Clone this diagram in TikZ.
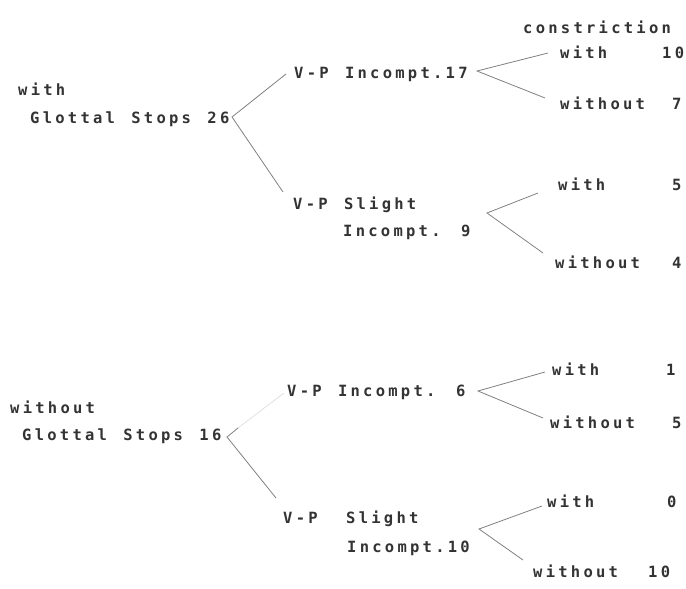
\documentclass[tikz,border=0pt]{standalone}
\usepackage{fontspec}
\newfontfamily\tw[LetterSpace=21,WordSpace=1.3,BoldFont={DejaVu Sans Mono Bold}]{DejaVu Sans Mono}
\begin{document}
\begin{tikzpicture}[x=1pt,y=-1pt,
  txt/.style={anchor=base west,inner sep=0pt,text=black!80,font=\tw\bfseries\fontsize{15.5}{16}\selectfont},
  br/.style={draw=black!50,line width=0.8pt},
  faint/.style={draw=black!15,line width=0.6pt}]
\useasboundingbox (0,0) rectangle (686,589);
% ---------- upper tree ----------
\node[txt] (cons) at (523,33) {constriction};
\node[txt] (w1) at (18,95) {with};
\node[txt] (g26) at (30,123) {Glottal Stops 26};
\node[txt] (vp17) at (294,78) {V-P Incompt.17};
\node[txt] (vps1) at (293,209) {V-P Slight};
\node[txt] (inc9) at (343,236) {Incompt. 9};
\node[txt] (a1) at (560,58) {with};
\node[txt] (n10) at (662,58) {10};
\node[txt] (a2) at (560,109) {without};
\node[txt] (n7) at (672,109) {7};
\node[txt] (a3) at (558,190) {with};
\node[txt] (n5) at (672,190) {5};
\node[txt] (a4) at (555,268) {without};
\node[txt] (n4) at (672,268) {4};
\coordinate (j1) at (232,117);
\coordinate (e1) at (286,74);
\coordinate (e2) at (283,192);
\coordinate (j2) at (477,71);
\coordinate (e3) at (548,53);
\coordinate (e4) at (545,98);
\coordinate (j3) at (487,213);
\coordinate (e5) at (538,193);
\coordinate (e6) at (543,253);
\draw[br] (e1) -- (j1) -- (e2);
\draw[br] (e3) -- (j2) -- (e4);
\draw[br] (e5) -- (j3) -- (e6);
% ---------- lower tree ----------
\node[txt] (w2) at (10,413) {without};
\node[txt] (g16) at (22,440) {Glottal Stops 16};
\node[txt] (vp6) at (287,396) {V-P Incompt. 6};
\node[txt] (vpa) at (283,523) {V-P};
\node[txt] (sl2) at (346,523) {Slight};
\node[txt] (inc10) at (347,552) {Incompt.10};
\node[txt] (b1) at (552,375) {with};
\node[txt] (m1) at (666,375) {1};
\node[txt] (b2) at (550,428) {without};
\node[txt] (m5) at (672,428) {5};
\node[txt] (b3) at (547,507) {with};
\node[txt] (m0) at (667,507) {0};
\node[txt] (b4) at (533,577) {without};
\node[txt] (m10) at (648,577) {10};
\coordinate (k1) at (227,437);
\coordinate (k1t) at (238,428);
\coordinate (f1) at (284,393);
\coordinate (f2) at (276,498);
\coordinate (k2) at (478,391);
\coordinate (f3) at (545,372);
\coordinate (f4) at (543,418);
\coordinate (k3) at (479,529);
\coordinate (f5) at (542,506);
\coordinate (f6) at (523,560);
\draw[faint] (k1t) -- (f1);
\draw[br] (k1t) -- (k1) -- (f2);
\draw[br] (f3) -- (k2) -- (f4);
\draw[br] (f5) -- (k3) -- (f6);
\end{tikzpicture}
\end{document}
